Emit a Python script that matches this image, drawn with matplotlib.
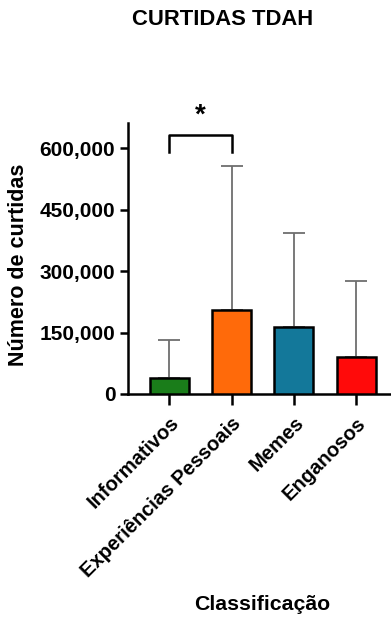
import matplotlib
matplotlib.use("Agg")
import matplotlib.pyplot as plt

categories = ["Informativos", "Experiências Pessoais", "Memes", "Enganosos"]
means = [40000, 205000, 163000, 91000]
upper_err = [93000, 351000, 230000, 184000]
colors = ["#1a7d1a", "#ff6a0a", "#13789a", "#ff0a0a"]
yticks = [0, 150000, 300000, 450000, 600000]
ytick_labels = ["0", "150,000", "300,000", "450,000", "600,000"]

plt.rcParams['font.family'] = ['Liberation Sans', 'DejaVu Sans']

fig = plt.figure(figsize=(3.91, 6.19), dpi=100)
ax = fig.add_axes([0.327, 0.3635, 0.673, 0.4375])

x = list(range(len(categories)))
ax.bar(x, means, width=0.63, color=colors, edgecolor="black", linewidth=1.8, zorder=3)
ax.errorbar(x, means, yerr=[[0]*len(means), upper_err], fmt="none",
            ecolor="#6e6e6e", elinewidth=1.3, capsize=8, capthick=1.3, zorder=2)

ax.set_xlim(-0.667, 3.56)
ax.set_ylim(0, 661000)
ax.set_yticks(yticks)
ax.set_yticklabels(ytick_labels, fontsize=15, fontweight="bold")
ax.set_xticks(x)
ax.set_xticklabels(categories, rotation=45, ha="right", rotation_mode="anchor",
                   fontsize=14.5, fontweight="bold")

for s in ["top", "right"]:
    ax.spines[s].set_visible(False)
for s in ["left", "bottom"]:
    ax.spines[s].set_linewidth(1.8)
ax.tick_params(axis="y", width=1.8, length=6, pad=3)
ax.tick_params(axis="x", width=1.8, length=8, pad=6)

# significance bracket
ax.plot([0, 0, 1, 1], [591000, 632000, 632000, 591000], color="black", lw=1.8, clip_on=False)
ax.text(0.5, 648000, "*", ha="center", va="bottom", fontsize=20, fontweight="bold")

ax.set_ylabel("Número de curtidas", fontsize=15.5, fontweight="bold")
ax.yaxis.set_label_coords(-0.375, 0.476)
fig.text(0.67, 0.023, "Classificação", ha="center", va="center", fontsize=15.3, fontweight="bold")
fig.text(0.568, 0.969, "CURTIDAS TDAH", ha="center", va="center", fontsize=15.8, fontweight="bold")

fig.savefig("out.png", dpi=100)
